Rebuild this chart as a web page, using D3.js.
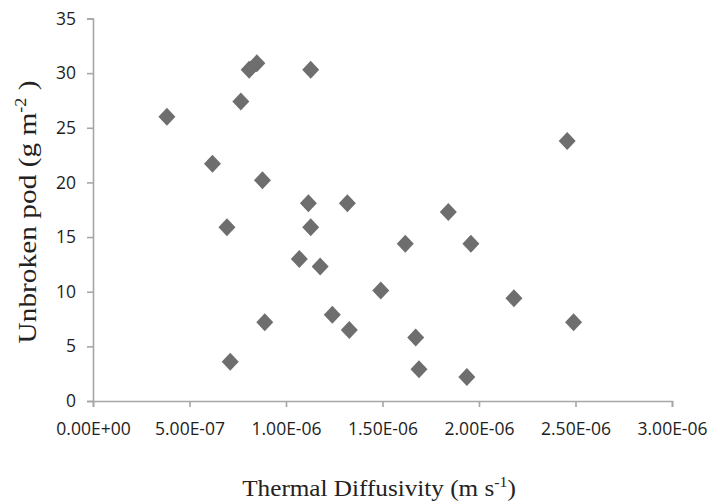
<!DOCTYPE html>
<html>
<head>
<meta charset="utf-8">
<script src="https://cdn.jsdelivr.net/npm/d3@7"></script>
<style>
  body { margin: 0; background: #fff; }
  .tick text { font-family: "Open Sans", "Liberation Sans", sans-serif; font-size: 17.5px; fill: #1e1e1e; }
  .title { font-family: "Liberation Serif", "DejaVu Serif", serif; fill: #222; }
</style>
</head>
<body>
<svg id="chart" width="709" height="502"></svg>
<script>
// thermal diffusivity (m s-1) vs unbroken pod (g m-2)
var diffusivity = [3.83e-7, 6.19e-7, 7.66e-7, 8.09e-7, 8.49e-7, 1.128e-6, 8.78e-7, 1.116e-6, 1.318e-6,
  6.94e-7, 1.128e-6, 1.069e-6, 1.177e-6, 1.491e-6, 1.240e-6, 8.90e-7, 1.328e-6, 7.11e-7,
  2.457e-6, 1.841e-6, 1.618e-6, 1.958e-6, 2.181e-6, 2.490e-6, 1.672e-6, 1.689e-6, 1.937e-6];
var unbrokenPod = [26.0, 21.7, 27.4, 30.3, 30.9, 30.3, 20.2, 18.1, 18.1,
  15.9, 15.9, 13.0, 12.3, 10.1, 7.9, 7.2, 6.5, 3.6,
  23.8, 17.3, 14.4, 14.4, 9.4, 7.2, 5.8, 2.9, 2.2];
var xTicks = [0, 5e-7, 1e-6, 1.5e-6, 2e-6, 2.5e-6, 3e-6];
var xTickLabels = ['0.00E+00', '5.00E-07', '1.00E-06', '1.50E-06', '2.00E-06', '2.50E-06', '3.00E-06'];
var yTicks = [0, 5, 10, 15, 20, 25, 30, 35];

var svg = d3.select('#chart');
var margin = {left: 93, right: 37, top: 18.5, bottom: 101};
var W = 709, H = 502;

var x = d3.scaleLinear().domain([0, 3e-6]).range([margin.left, W - margin.right]);
var y = d3.scaleLinear().domain([0, 35]).range([H - margin.bottom, margin.top]);

var axisColor = '#a6a6a6';

var gx = svg.append('g')
    .attr('transform', 'translate(0,' + y(0) + ')')
    .call(d3.axisBottom(x).tickValues(xTicks).tickFormat((d, i) => xTickLabels[i]).tickSize(6).tickPadding(16));

var gy = svg.append('g')
    .attr('transform', 'translate(' + x(0) + ',0)')
    .call(d3.axisLeft(y).tickValues(yTicks).tickSize(6).tickPadding(11));

[gx, gy].forEach(function (g) {
    g.select('.domain').attr('stroke', axisColor).attr('stroke-width', 1.6);
    g.selectAll('.tick line').attr('stroke', axisColor).attr('stroke-width', 1.6);
});

// diamonds
var pts = diffusivity.map((d, i) => [d, unbrokenPod[i]]);
svg.append('g').selectAll('path')
    .data(pts)
    .enter()
    .append('path')
    .attr('transform', d => 'translate(' + x(d[0]) + ',' + y(d[1]) + ')')
    .attr('d', 'M0,-9L8.5,0L0,9L-8.5,0Z')
    .attr('fill', '#6e6e6e');

// axis titles
var xt = svg.append('text')
    .attr('class', 'title')
    .attr('font-size', 24)
    .attr('transform', 'translate(379,496) scale(1.05,1)')
    .attr('text-anchor', 'middle');
xt.append('tspan').text('Thermal Diffusivity (m s');
xt.append('tspan').attr('font-size', 15).attr('dy', -9).text('-1');
xt.append('tspan').attr('dy', 9).text(')');

var yt = svg.append('text')
    .attr('class', 'title')
    .attr('font-size', 26)
    .attr('transform', 'translate(36,212) rotate(-90) scale(1.13,1)')
    .attr('text-anchor', 'middle');
yt.append('tspan').text('Unbroken pod (g m');
yt.append('tspan').attr('font-size', 16).attr('dy', -10).text('-2');
yt.append('tspan').attr('dy', 10).text(' )');
</script>
</body>
</html>
